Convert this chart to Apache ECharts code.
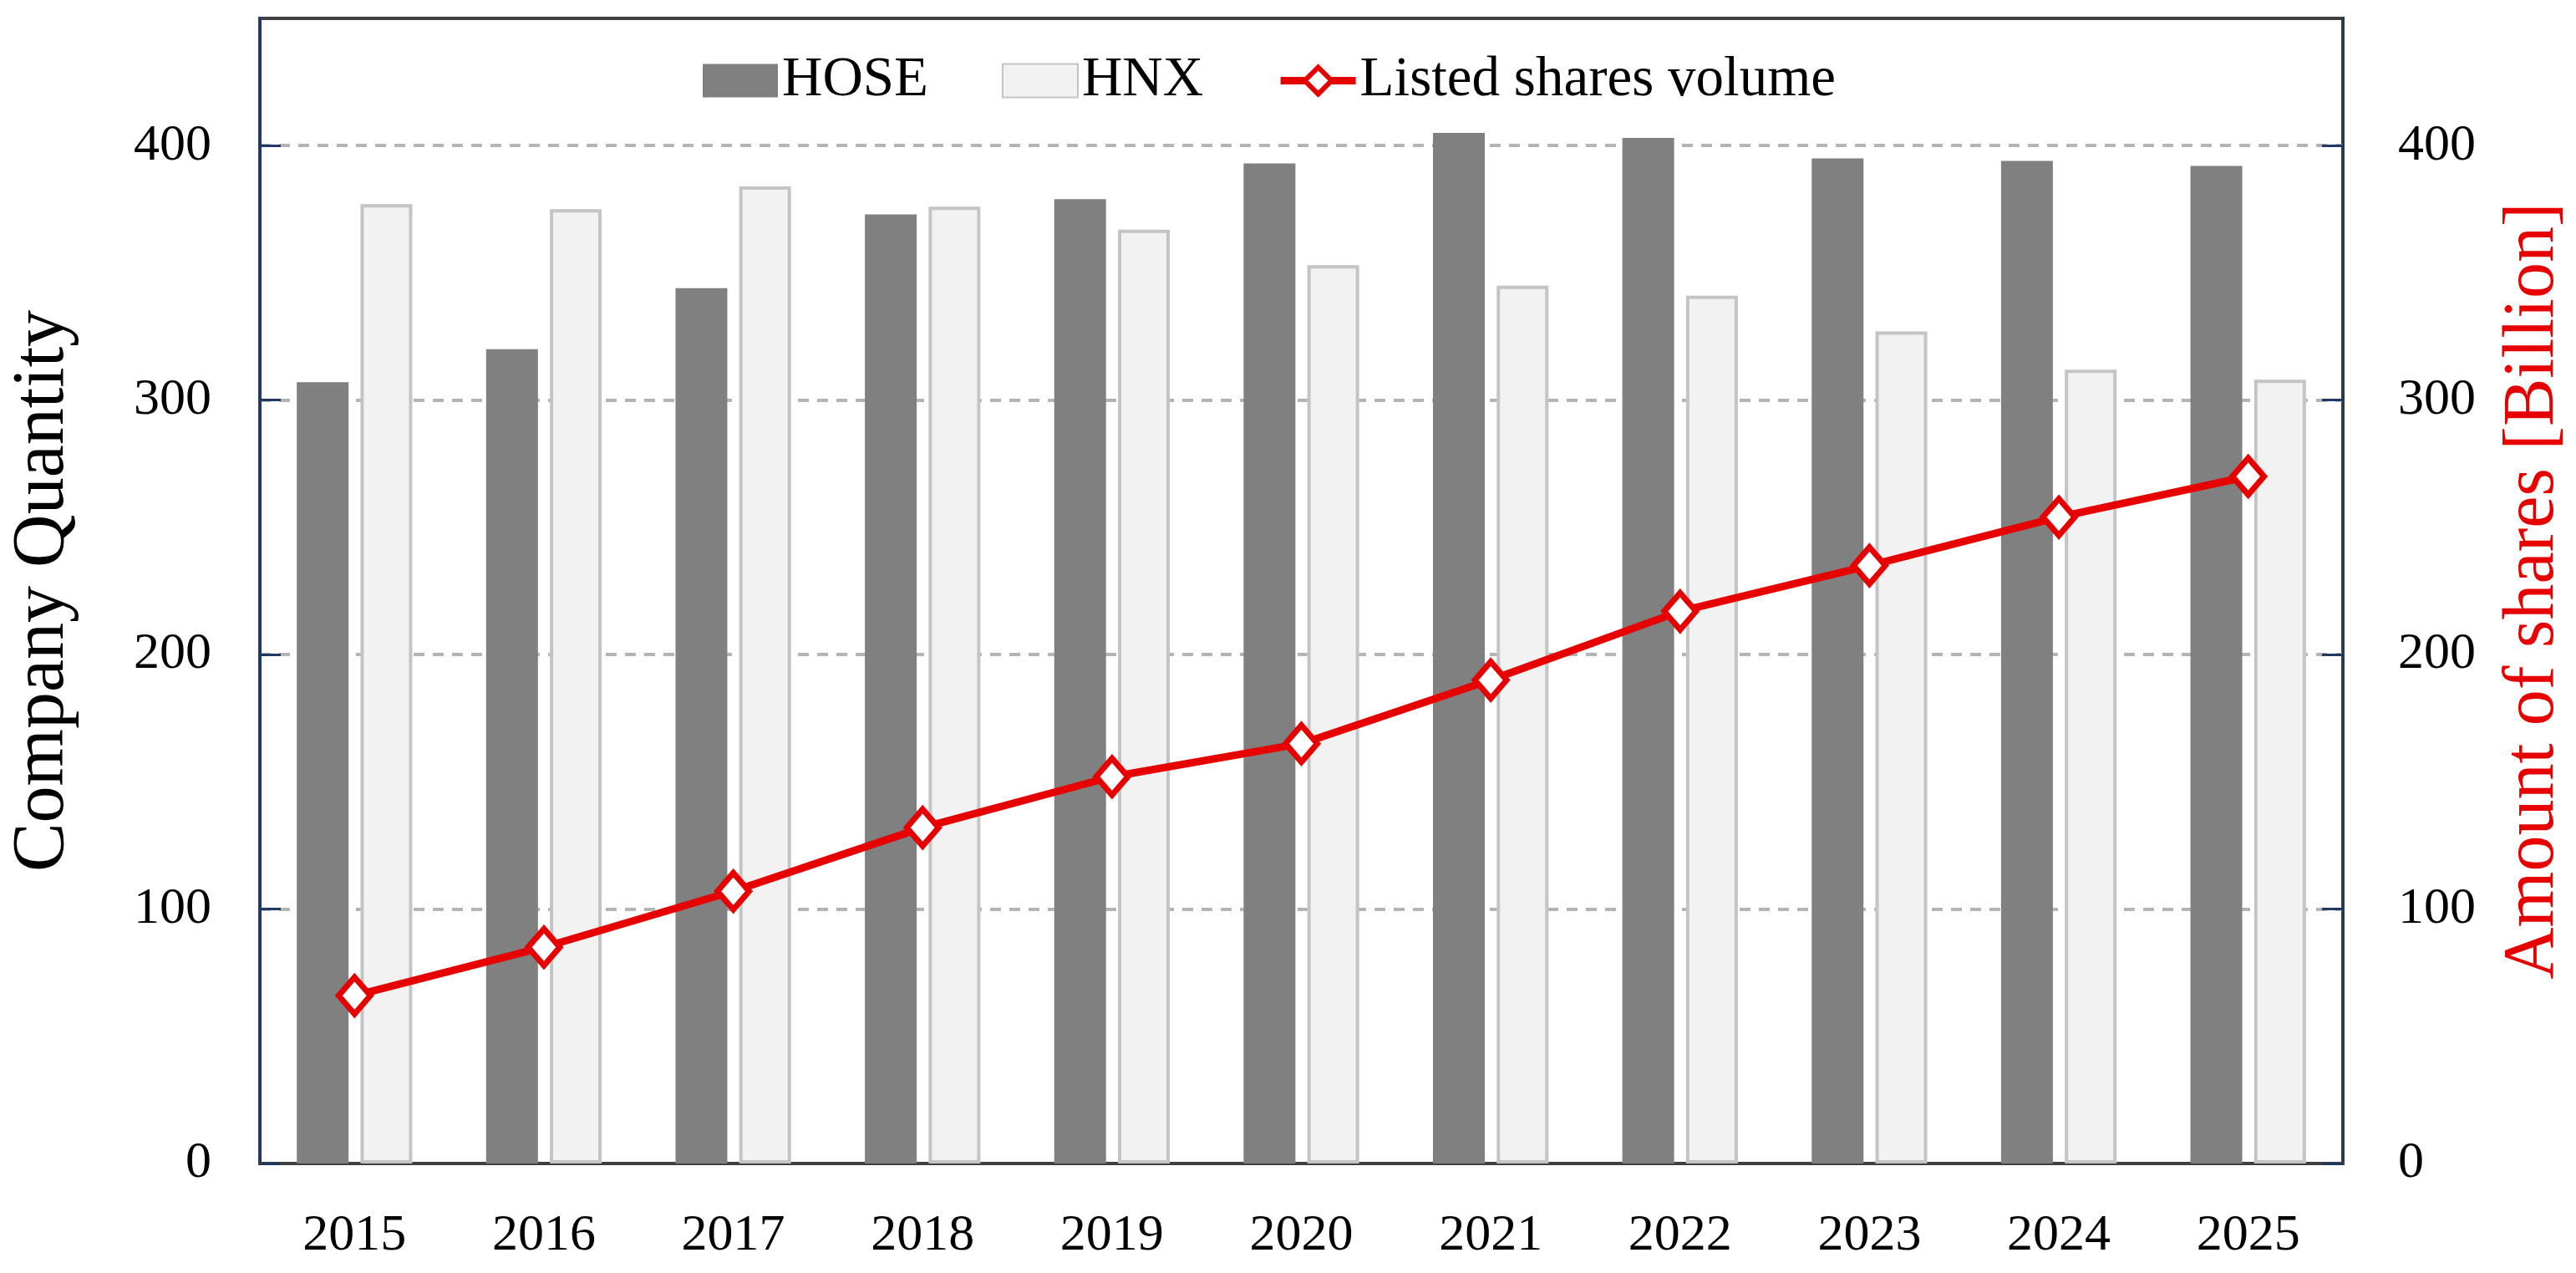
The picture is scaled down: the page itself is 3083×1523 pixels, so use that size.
<!DOCTYPE html>
<html>
<head>
<meta charset="utf-8">
<script src="https://cdn.jsdelivr.net/npm/echarts@6/dist/echarts.min.js"></script>
<style>
html, body { margin: 0; padding: 0; background: #fff; }
#main { width: 3083px; height: 1523px; }
</style>
</head>
<body>
<div id="main"></div>
<script>
var years = ['2015', '2016', '2017', '2018', '2019', '2020', '2021', '2022', '2023', '2024', '2025'];
var hose = [307, 320, 344, 373, 379, 393, 405, 403, 395, 394, 392];
var hnx = [377, 375, 384, 376, 367, 353, 345, 341, 327, 312, 308];
var sharesVolume = [66, 85, 107, 132, 152, 165, 190, 217, 235, 254, 270];

var dom = document.getElementById('main');
var myChart = echarts.init(dom);
var font = 'Liberation Serif';
var navy = '#1f3864';
var red = '#e60000';

var option = {
    backgroundColor: '#fff',
    textStyle: { fontFamily: font },
    animation: false,
    legend: {
        top: 58,
        left: 836,
        itemWidth: 90,
        itemHeight: 40,
        itemGap: 88,
        textStyle: { fontFamily: font, fontSize: 67, color: '#000' },
        data: [
            { name: 'HOSE', icon: 'rect' },
            { name: 'HNX', icon: 'rect' },
            { name: 'Listed shares volume', lineStyle: { width: 9 }, itemStyle: { borderWidth: 6 } }
        ]
    },
    grid: {
        left: 309,
        right: 273,
        top: 22,
        bottom: 131,
        show: true,
        borderColor: '#404040',
        borderWidth: 4
    },
    xAxis: {
        type: 'category',
        data: years,
        axisLine: { lineStyle: { color: '#404040', width: 4 } },
        axisTick: { show: false },
        axisLabel: { fontFamily: font, fontSize: 62, color: '#000', margin: 56 }
    },
    yAxis: [
        {
            type: 'value',
            min: 0,
            max: 450,
            interval: 100,
            name: 'Company Quantity',
            nameLocation: 'middle',
            nameRotate: 90,
            nameGap: 215,
            nameTextStyle: { fontFamily: font, fontSize: 88, color: '#000' },
            axisLine: { show: true, lineStyle: { color: navy, width: 3 } },
            axisTick: { show: true, inside: true, length: 25, lineStyle: { color: navy, width: 3 } },
            axisLabel: { fontFamily: font, fontSize: 62, color: '#000', margin: 58, showMaxLabel: false },
            splitLine: {
                showMinLine: false,
                showMaxLine: false,
                lineStyle: { color: '#b4b4b4', width: 4, type: [13, 10] }
            }
        },
        {
            type: 'value',
            min: 0,
            max: 450,
            interval: 100,
            position: 'right',
            name: 'Amount of shares [Billion]',
            nameLocation: 'middle',
            nameRotate: 90,
            nameGap: 185,
            nameTextStyle: { fontFamily: font, fontSize: 86, color: red },
            axisLine: { show: true, lineStyle: { color: navy, width: 3 } },
            axisTick: { show: true, inside: true, length: 25, lineStyle: { color: navy, width: 3 } },
            axisLabel: { fontFamily: font, fontSize: 62, color: '#000', margin: 66, showMaxLabel: false },
            splitLine: { show: false }
        }
    ],
    series: [
        {
            name: 'HOSE',
            type: 'bar',
            data: hose,
            barWidth: 62,
            barGap: '23%',
            itemStyle: { color: '#808080' }
        },
        {
            name: 'HNX',
            type: 'bar',
            data: hnx,
            barWidth: 62,
            itemStyle: { color: '#f2f2f2', borderColor: '#c4c4c4', borderWidth: 4 }
        },
        {
            name: 'Listed shares volume',
            type: 'line',
            yAxisIndex: 1,
            data: sharesVolume,
            symbol: 'diamond',
            symbolSize: [38, 44],
            lineStyle: { color: red, width: 9 },
            itemStyle: { color: '#fff', borderColor: red, borderWidth: 7 },
            z: 5
        }
    ]
};

if (option && typeof option === 'object') {
    myChart.setOption(option, true);
}
</script>
</body>
</html>
